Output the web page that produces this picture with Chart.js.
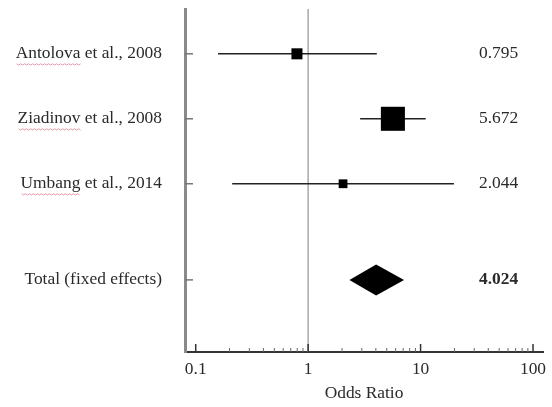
<!DOCTYPE html>
<html>
<head>
<meta charset="utf-8">
<script src="https://cdn.jsdelivr.net/npm/chart.js@4"></script>
<style>
  html, body { margin: 0; padding: 0; background: #fff; }
  #c { display: block; }
</style>
</head>
<body>
<canvas id="c" width="552" height="407"></canvas>
<script>
// ---- Data ----
const studies = ['Antolova et al., 2008', 'Ziadinov et al., 2008', 'Umbang et al., 2014', 'Total (fixed effects)'];
const oddsRatio = [0.795, 5.672, 2.044, 4.024];
const ciLower = [0.158, 2.90, 0.211, 2.33];
const ciUpper = [4.08, 11.1, 19.8, 7.13];
const valueLabels = ['0.795', '5.672', '2.044', '4.024'];
const xTickValues = [0.1, 1, 10, 100];
const xMinorTicks = [0.2,0.3,0.4,0.5,0.6,0.7,0.8,0.9, 2,3,4,5,6,7,8,9, 20,30,40,50,60,70,80,90];

// ---- Layout / style (not data) ----
const rowPos = [1, 2, 3, 4.48];
const markerRadius = [7.8, 17, 6.2];
const FONT = 'Liberation Serif, Times New Roman, serif';
const FS = 17.4;
const zeroPad = () => ({ left: 0, right: 0, top: 0, bottom: 0 });

const ciDatasets = [0, 1, 2].map(i => ({
  type: 'line',
  data: [{ x: ciLower[i], y: rowPos[i] }, { x: ciUpper[i], y: rowPos[i] }],
  borderColor: '#222',
  borderWidth: 1.5,
  pointRadius: 0,
  fill: false,
  order: 2
}));

const squareDataset = {
  type: 'scatter',
  data: [0, 1, 2].map(i => ({ x: oddsRatio[i], y: rowPos[i] })),
  pointStyle: 'rect',
  pointRadius: markerRadius,
  pointHoverRadius: markerRadius,
  backgroundColor: '#000',
  borderWidth: 0,
  order: 1
};

const forestPlugin = {
  id: 'forest',
  beforeDatasetsDraw(chart) {
    const { ctx, chartArea, scales: { x } } = chart;
    ctx.save();
    const x1 = x.getPixelForValue(1);
    ctx.strokeStyle = '#a8a8a8';
    ctx.lineWidth = 1.5;
    ctx.beginPath();
    ctx.moveTo(x1, chartArea.top);
    ctx.lineTo(x1, chartArea.bottom);
    ctx.stroke();
    ctx.restore();
  },
  afterDatasetsDraw(chart) {
    const { ctx, chartArea, scales: { x, y } } = chart;
    ctx.save();
    const t = 3;
    const yc = y.getPixelForValue(rowPos[t]);
    const xl = x.getPixelForValue(ciLower[t]);
    const xr = x.getPixelForValue(ciUpper[t]);
    const xe = x.getPixelForValue(oddsRatio[t]);
    const hh = 15.5;
    ctx.fillStyle = '#000';
    ctx.beginPath();
    ctx.moveTo(xl, yc);
    ctx.lineTo(xe, yc - hh);
    ctx.lineTo(xr, yc);
    ctx.lineTo(xe, yc + hh);
    ctx.closePath();
    ctx.fill();

    ctx.strokeStyle = '#333';
    ctx.lineWidth = 1.5;
    const yb = chartArea.bottom;
    xTickValues.forEach(v => {
      const px = x.getPixelForValue(v);
      ctx.beginPath(); ctx.moveTo(px, yb); ctx.lineTo(px, yb - 8); ctx.stroke();
    });
    ctx.strokeStyle = '#666';
    ctx.lineWidth = 1;
    xMinorTicks.forEach(v => {
      const px = x.getPixelForValue(v);
      ctx.beginPath(); ctx.moveTo(px, yb); ctx.lineTo(px, yb - 4); ctx.stroke();
    });

    ctx.strokeStyle = '#777';
    ctx.lineWidth = 1.5;
    rowPos.forEach(r => {
      const py = y.getPixelForValue(r);
      ctx.beginPath(); ctx.moveTo(chartArea.left, py); ctx.lineTo(chartArea.left + 8, py); ctx.stroke();
    });

    ctx.fillStyle = '#2a2a2a';
    ctx.textAlign = 'left';
    ctx.textBaseline = 'middle';
    valueLabels.forEach((s, i) => {
      ctx.font = (i === 3 ? 'bold ' : '') + FS + 'px ' + FONT;
      ctx.fillText(s, chartArea.right - 64, y.getPixelForValue(rowPos[i]));
    });
    ctx.restore();
  },
  afterDraw(chart) {
    const { ctx, scales: { y } } = chart;
    ctx.save();
    ctx.font = FS + 'px ' + FONT;
    const rightX = y.right - 22;
    ctx.strokeStyle = 'rgba(225,120,140,0.75)';
    ctx.lineWidth = 1;
    [0, 1, 2].forEach(i => {
      const full = ctx.measureText(studies[i]).width;
      const word = ctx.measureText(studies[i].split(' ')[0]).width;
      const x0 = rightX - full;
      const py = y.getPixelForValue(rowPos[i]) + 10;
      ctx.beginPath();
      for (let k = 0; k <= word; k += 2) {
        const yy = py + ((k / 2) % 2 === 0 ? 0 : 1.2);
        if (k === 0) ctx.moveTo(x0 + k, yy); else ctx.lineTo(x0 + k, yy);
      }
      ctx.stroke();
    });
    ctx.restore();
  }
};

new Chart(document.getElementById('c'), {
  type: 'scatter',
  data: { datasets: [...ciDatasets, squareDataset] },
  options: {
    responsive: false,
    animation: false,
    layout: { autoPadding: false, padding: { top: 9, right: 9, left: 0, bottom: 0 } },
    plugins: { legend: { display: false }, tooltip: { enabled: false } },
    scales: {
      x: {
        type: 'logarithmic',
        min: 0.0803,
        max: 122.7,
        afterBuildTicks(scale) { scale.ticks = xTickValues.map(v => ({ value: v, major: true })); },
        afterFit(scale) {
          scale.height = 55;
          scale.paddingLeft = 0; scale.paddingRight = 0; scale.paddingTop = 0; scale.paddingBottom = 0;
          scale.getPadding = zeroPad;
        },
        grid: { display: false, drawTicks: false },
        border: { display: true, color: '#333', width: 2 },
        ticks: {
          autoSkip: false,
          maxRotation: 0,
          padding: 7,
          color: '#2a2a2a',
          font: { family: FONT, size: FS },
          callback: (v) => String(v)
        },
        title: {
          display: true,
          text: 'Odds Ratio',
          color: '#2a2a2a',
          font: { family: FONT, size: FS },
          padding: { top: 0, bottom: 3 }
        }
      },
      y: {
        type: 'linear',
        reverse: true,
        min: 0.31,
        max: 5.59,
        afterBuildTicks(scale) { scale.ticks = rowPos.map(v => ({ value: v })); },
        afterFit(scale) {
          scale.width = 185;
          scale.paddingLeft = 0; scale.paddingRight = 0; scale.paddingTop = 0; scale.paddingBottom = 0;
          scale.getPadding = zeroPad;
        },
        grid: { display: false, drawTicks: false },
        border: { display: true, color: '#8a8a8a', width: 3 },
        ticks: {
          autoSkip: false,
          padding: 23,
          color: '#2a2a2a',
          font: { family: FONT, size: FS },
          callback: (v, i) => studies[i]
        }
      }
    }
  },
  plugins: [forestPlugin]
});
</script>
</body>
</html>
